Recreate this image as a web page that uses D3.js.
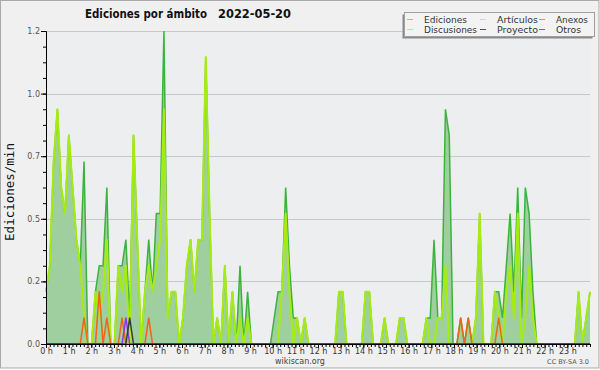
<!DOCTYPE html>
<html>
<head>
<meta charset="utf-8">
<script src="https://cdn.jsdelivr.net/npm/d3@7"></script>
<style>
body { margin: 0; background: #fff; }
svg { display: block; font-family: "DejaVu Sans", sans-serif; }
</style>
</head>
<body>
<div id="chart"></div>
<script>
// ediciones por minuto, un valor cada 10 minutos (una fila = una hora)
var ediciones = [
  0.2, 0.3, 0.7, 0.9, 0.6, 0.5,
  0.8, 0.6, 0.4, 0.3, 0.7, 0,
  0, 0.2, 0.3, 0.3, 0.6, 0,
  0, 0.3, 0.3, 0.4, 0.1, 0.8,
  0.4, 0, 0.2, 0.4, 0.2, 0.5,
  0.5, 1.2, 0.1, 0.2, 0.2, 0,
  0.1, 0.3, 0.4, 0.2, 0.4, 0.4,
  1.1, 0.5, 0, 0.1, 0, 0.3,
  0, 0.2, 0, 0.3, 0, 0.2,
  0, 0, 0, 0, 0, 0,
  0.1, 0.2, 0.2, 0.6, 0.3, 0.1,
  0.1, 0, 0.1, 0, 0, 0,
  0, 0, 0, 0, 0, 0.2,
  0.2, 0, 0, 0, 0, 0,
  0.2, 0.2, 0, 0, 0, 0.1,
  0, 0, 0, 0.1, 0.1, 0,
  0, 0, 0, 0, 0.1, 0.1,
  0.4, 0.1, 0.1, 0.9, 0.8, 0,
  0, 0.1, 0, 0.1, 0, 0.1,
  0.5, 0, 0, 0, 0.2, 0.2,
  0.1, 0.3, 0.5, 0.2, 0.6, 0.1,
  0.6, 0.5, 0.2, 0, 0, 0,
  0, 0, 0, 0, 0, 0,
  0, 0, 0.2, 0, 0.1, 0.2
];
var articulos = [
  0.2, 0.3, 0.7, 0.9, 0.6, 0.5,
  0.8, 0.6, 0.4, 0.3, 0.1, 0,
  0, 0.2, 0.1, 0.2, 0.4, 0,
  0, 0.3, 0.2, 0.3, 0, 0.8,
  0.4, 0, 0.2, 0.3, 0.2, 0.3,
  0.4, 0.9, 0.1, 0.2, 0.2, 0,
  0.1, 0.3, 0.4, 0.2, 0.4, 0.4,
  1.1, 0.5, 0, 0.1, 0, 0.3,
  0, 0.2, 0, 0.1, 0, 0.1,
  0, 0, 0, 0, 0, 0,
  0, 0, 0.2, 0.5, 0.2, 0,
  0.1, 0, 0.1, 0, 0, 0,
  0, 0, 0, 0, 0, 0.2,
  0.2, 0, 0, 0, 0, 0,
  0.2, 0.2, 0, 0, 0, 0.1,
  0, 0, 0, 0.1, 0.1, 0,
  0, 0, 0, 0, 0.1, 0,
  0, 0.1, 0.1, 0.3, 0, 0,
  0, 0, 0, 0, 0, 0.1,
  0.5, 0, 0, 0, 0.2, 0.1,
  0, 0.2, 0.3, 0.1, 0.5, 0,
  0.1, 0.3, 0.1, 0, 0, 0,
  0, 0, 0, 0, 0, 0,
  0, 0, 0.2, 0, 0.1, 0.2
];
var anexos = [
  0, 0, 0, 0, 0, 0,
  0, 0, 0, 0, 0.1, 0,
  0, 0, 0.2, 0, 0.1, 0,
  0, 0, 0.1, 0, 0, 0,
  0, 0, 0, 0.1, 0, 0,
  0, 0, 0, 0, 0, 0,
  0, 0, 0, 0, 0, 0,
  0, 0, 0, 0, 0, 0,
  0, 0, 0, 0, 0, 0,
  0, 0, 0, 0, 0, 0,
  0, 0, 0, 0, 0, 0,
  0, 0, 0, 0, 0, 0,
  0, 0, 0, 0, 0, 0,
  0, 0, 0, 0, 0, 0,
  0, 0, 0, 0, 0, 0,
  0, 0, 0, 0, 0, 0,
  0, 0, 0, 0, 0, 0,
  0, 0, 0, 0, 0, 0,
  0, 0.1, 0, 0.1, 0, 0,
  0, 0, 0, 0, 0, 0.1,
  0, 0, 0, 0, 0, 0,
  0, 0, 0, 0, 0, 0,
  0, 0, 0, 0, 0, 0,
  0, 0, 0, 0, 0, 0
];
var discusiones = [
  0, 0, 0, 0, 0, 0,  0, 0, 0, 0, 0, 0,  0, 0, 0, 0, 0, 0,  0, 0, 0, 0, 0, 0,
  0, 0, 0, 0, 0, 0,  0, 0, 0, 0, 0, 0,  0, 0, 0, 0, 0, 0,  0, 0, 0, 0, 0, 0,
  0, 0, 0, 0, 0, 0,  0, 0, 0, 0, 0, 0,  0, 0, 0, 0, 0, 0,  0, 0, 0, 0, 0, 0,
  0, 0, 0, 0, 0, 0,  0, 0, 0, 0, 0, 0,  0, 0, 0, 0, 0, 0,  0, 0, 0, 0, 0, 0,
  0, 0, 0, 0, 0, 0,  0, 0, 0, 0, 0, 0,  0, 0, 0, 0, 0, 0,  0, 0, 0, 0, 0, 0,
  0, 0, 0, 0, 0, 0,  0, 0, 0, 0, 0, 0,  0, 0, 0, 0, 0, 0,  0, 0, 0, 0, 0, 0
];
var proyecto = [
  0, 0, 0, 0, 0, 0,  0, 0, 0, 0, 0, 0,  0, 0, 0, 0, 0, 0,  0, 0, 0, 0, 0.1, 0,
  0, 0, 0, 0, 0, 0,  0, 0, 0, 0, 0, 0,  0, 0, 0, 0, 0, 0,  0, 0, 0, 0, 0, 0,
  0, 0, 0, 0, 0, 0,  0, 0, 0, 0, 0, 0,  0, 0, 0, 0, 0, 0,  0, 0, 0, 0, 0, 0,
  0, 0, 0, 0, 0, 0,  0, 0, 0, 0, 0, 0,  0, 0, 0, 0, 0, 0,  0, 0, 0, 0, 0, 0,
  0, 0, 0, 0, 0, 0,  0, 0, 0, 0, 0, 0,  0, 0, 0, 0, 0, 0,  0, 0, 0, 0, 0, 0,
  0, 0, 0, 0, 0, 0,  0, 0, 0, 0, 0, 0,  0, 0, 0, 0, 0, 0,  0, 0, 0, 0, 0, 0
];
var otros = [
  0, 0, 0, 0, 0, 0,  0, 0, 0, 0, 0, 0,  0, 0, 0, 0, 0, 0,  0, 0, 0, 0.1, 0, 0,
  0, 0, 0, 0, 0, 0,  0, 0, 0, 0, 0, 0,  0, 0, 0, 0, 0, 0,  0, 0, 0, 0, 0, 0,
  0, 0, 0, 0, 0, 0,  0, 0, 0, 0, 0, 0,  0, 0, 0, 0, 0, 0,  0, 0, 0, 0, 0, 0,
  0, 0, 0, 0, 0, 0,  0, 0, 0, 0, 0, 0,  0, 0, 0, 0, 0, 0,  0, 0, 0, 0, 0, 0,
  0, 0, 0, 0, 0, 0,  0, 0, 0, 0, 0, 0,  0, 0, 0, 0, 0, 0,  0, 0, 0, 0, 0, 0,
  0, 0, 0, 0, 0, 0,  0, 0, 0, 0, 0, 0,  0, 0, 0, 0, 0, 0,  0, 0, 0, 0, 0, 0
];
var horas = ["0 h","1 h","2 h","3 h","4 h","5 h","6 h","7 h","8 h","9 h","10 h","11 h",
             "12 h","13 h","14 h","15 h","16 h","17 h","18 h","19 h","20 h","21 h","22 h","23 h"];
var yTicks = [0, 0.24, 0.48, 0.72, 0.96, 1.2];
var nombres = ["Ediciones","Artículos","Anexos","Discusiones","Proyecto","Otros"];

var W = 600, H = 370;
var margin = { top: 31, right: 10, bottom: 26, left: 46 };
var x0 = margin.left, x1 = W - margin.right, yb = H - margin.bottom, yt = margin.top;

var svg = d3.select("#chart").append("svg")
    .attr("width", W)
    .attr("height", H);

svg.append("rect")
    .attr("x", 0.5).attr("y", 0.5)
    .attr("width", W - 1.5).attr("height", H - 2.5)
    .attr("fill", "#f0f0f0")
    .attr("stroke", "#a9a9a9");

var x = d3.scaleLinear().domain([0, ediciones.length - 1]).range([x0, x1]);
var xh = d3.scaleLinear().domain([0, 24]).range([x0, x1]);
var y = d3.scaleLinear().domain([0, 1.2]).range([yb, yt]);

svg.append("rect")
    .attr("x", x0).attr("y", yt)
    .attr("width", x1 - x0).attr("height", yb - yt)
    .attr("fill", "#edeef0");

svg.selectAll("line.grid")
    .data(yTicks.slice(1))
    .enter()
    .append("line")
        .attr("class", "grid")
        .attr("x1", x0).attr("x2", x1)
        .attr("y1", function(d) { return Math.round(y(d)) + 0.5; })
        .attr("y2", function(d) { return Math.round(y(d)) + 0.5; })
        .attr("stroke", "#c9c9c9");

var area = d3.area()
    .x(function(d, i) { return x(i); })
    .y0(y(0))
    .y1(function(d) { return y(d); });
var linea = d3.line()
    .x(function(d, i) { return x(i); })
    .y(function(d) { return y(d); });

svg.append("path")
    .attr("d", area(ediciones))
    .attr("fill", "#9fcf9f");
svg.append("path")
    .attr("d", linea(ediciones))
    .attr("fill", "none")
    .attr("stroke", "#3cb33c")
    .attr("stroke-width", 1.5);

var series = [
    { v: articulos, c: "#a6ec12", w: 2 },
    { v: discusiones, c: "#ffcc33", w: 1.5 },
    { v: anexos, c: "#f06414", w: 1.5 },
    { v: otros, c: "#8a3ae6", w: 1.5 },
    { v: proyecto, c: "#3a3a3a", w: 1.5 }
];
series.forEach(function(s) {
    svg.append("path")
        .attr("d", linea(s.v))
        .attr("fill", "none")
        .attr("stroke", s.c)
        .attr("stroke-width", s.w)
        .attr("stroke-linejoin", "round");
});

// ejes
var fmt = d3.format(".1f");
svg.append("g")
    .attr("transform", "translate(" + x0 + ",0)")
    .call(d3.axisLeft(y).tickValues(d3.range(0, 1.2001, 0.06)).tickSize(3).tickFormat("").tickSizeOuter(0));
var ya = svg.append("g")
    .attr("transform", "translate(" + x0 + ",0)")
    .call(d3.axisLeft(y).tickValues(yTicks).tickSize(5).tickPadding(1).tickFormat(fmt).tickSizeOuter(0));
ya.selectAll("text").attr("font-size", 8).attr("fill", "#555").attr("font-family", "DejaVu Sans");

svg.append("g")
    .attr("transform", "translate(0," + yb + ")")
    .call(d3.axisBottom(xh).tickValues(d3.range(0, 24.001, 1 / 6)).tickSize(3).tickFormat("").tickSizeOuter(0));
var xa = svg.append("g")
    .attr("transform", "translate(0," + yb + ")")
    .call(d3.axisBottom(xh).tickValues(d3.range(0, 24)).tickSize(4).tickFormat(function(d) { return horas[d]; }).tickSizeOuter(0));
xa.selectAll("text").attr("y", 4).attr("font-size", 8).attr("fill", "#333").attr("font-family", "DejaVu Sans");

svg.append("text")
    .attr("transform", "translate(14,192) rotate(-90)")
    .attr("text-anchor", "middle")
    .attr("font-family", "DejaVu Sans Mono")
    .attr("font-size", 12.5)
    .attr("fill", "#111")
    .text("Ediciones/min");

// titulo
svg.append("text")
    .attr("x", 85).attr("y", 17.5)
    .attr("font-size", 11.5).attr("font-weight", "bold").attr("fill", "#111")
    .attr("textLength", 122).attr("lengthAdjust", "spacingAndGlyphs")
    .text("Ediciones por ámbito");
svg.append("text")
    .attr("x", 218).attr("y", 17.5)
    .attr("font-size", 11.5).attr("font-weight", "bold").attr("fill", "#111")
    .attr("textLength", 73).attr("lengthAdjust", "spacingAndGlyphs")
    .text("2022-05-20");

svg.append("text")
    .attr("x", 300).attr("y", 363.5)
    .attr("text-anchor", "middle")
    .attr("font-size", 8).attr("fill", "#444")
    .text("wikiscan.org");
svg.append("text")
    .attr("x", 589).attr("y", 364)
    .attr("text-anchor", "end")
    .attr("font-size", 6.5).attr("fill", "#555")
    .text("CC BY-SA 3.0");

// leyenda
var legColor = ["#8ccf8c","#c8ee66","#f08850","#fad23c","#505050","#9650e6"];
var legX = [407, 480, 539], legY = [19, 29];
var legLen = [43, 41, 32, 53, 41, 25];
svg.append("rect")
    .attr("x", 402.5).attr("y", 14.5).attr("width", 190).attr("height", 24)
    .attr("fill", "#8a8a8a");
svg.append("rect")
    .attr("x", 404.5).attr("y", 12.5).attr("width", 190).attr("height", 24)
    .attr("fill", "#f3f3f3").attr("stroke", "#a0a0a0");
var leg = svg.selectAll("g.leg")
    .data(nombres)
    .enter()
    .append("g")
        .attr("class", "leg")
        .attr("transform", function(d, i) { return "translate(" + legX[i % 3] + "," + legY[Math.floor(i / 3)] + ")"; });
leg.append("line")
    .attr("x1", 0).attr("x2", 6).attr("y1", 0.5).attr("y2", 0.5)
    .attr("stroke", function(d, i) { return legColor[i]; });
leg.append("text")
    .attr("x", 17).attr("y", 3.5)
    .attr("font-size", 9.5).attr("fill", "#333")
    .attr("textLength", function(d, i) { return legLen[i]; })
    .attr("lengthAdjust", "spacingAndGlyphs")
    .text(function(d) { return d; });
</script>
</body>
</html>
